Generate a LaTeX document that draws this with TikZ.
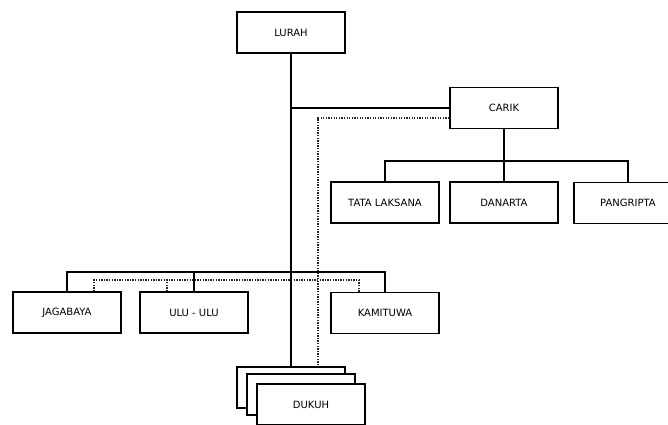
\documentclass[tikz,border=0pt]{standalone}
\usepackage{fontspec}
\setmainfont{DejaVu Sans}
\usetikzlibrary{positioning}

\begin{document}
\begin{tikzpicture}[
        x=1pt, y=-1pt,
        line width=1.6pt,
        box/.style={draw, fill=white, minimum width=108pt, minimum height=41pt, inner sep=0pt, align=center, font=\fontsize{10}{12}\selectfont},
        link/.style={line width=1.6pt},
        dotline/.style={line width=1.5pt, dash pattern=on 1.3pt off 1.3pt, black!85}
    ]
        \useasboundingbox (0,0) rectangle (668,424);
        \node[box] (lurah) at (291,32.5) {LURAH};
        \node[box] (carik) at (504,108) {CARIK};
        \node[box] (tata) at (385,202.5) {TATA LAKSANA};
        \node[box] (danarta) at (504,202.5) {DANARTA};
        \node[box] (pangripta) at (628,203) {PANGRIPTA};
        \node[box] (jagabaya) at (67,312.5) {JAGABAYA};
        \node[box] (ulu) at (194,312.5) {ULU - ULU};
        \node[box] (kamituwa) at (385,313) {KAMITUWA};
        % stacked dukuh
        \node[box] (dukuhA) at (291,387.5) {};
        \node[box] (dukuhB) at (301,394.5) {};
        \node[box] (dukuhC) at (311,404.5) {DUKUH};
        \draw[dotline] ([yshift=-10pt]carik.west) -| ([xshift=27pt]dukuhA.north);
        \draw[dotline] ([xshift=27pt]jagabaya.north) -- ++(0,-11) -| ([xshift=-26pt]kamituwa.north);
        \draw[dotline] ([xshift=-27pt]ulu.north) -- ++(0,-11);
        \draw[link] (lurah.south) -- (dukuhA.north);
        \draw[link] (lurah.south |- carik.west) -- (carik.west);
        \draw[link] (carik.south) -- (danarta.north);
        \draw[link] (tata.north) -- ++(0,-20) -| (pangripta.north);
        \draw[link] (jagabaya.north) -- ++(0,-19) -| (kamituwa.north);
        \draw[link] (ulu.north) -- ++(0,-19);
    \end{tikzpicture}
\end{document}
